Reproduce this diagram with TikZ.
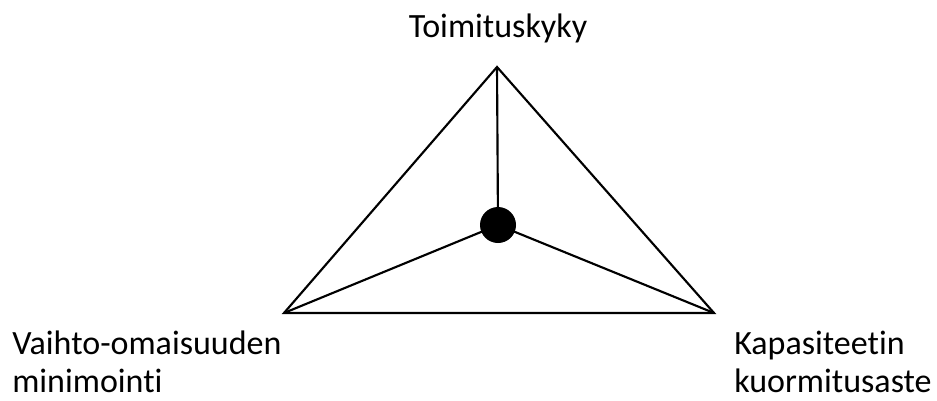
\documentclass[tikz,border=0pt]{standalone}
\usepackage{fontspec}
\setmainfont{Carlito}[RawFeature={-liga}]
\begin{document}
\begin{tikzpicture}[x=0.75pt,y=-0.75pt,
  edge/.style={line width=1.6pt,line join=miter},
  lbl/.style={font=\fontsize{25.5}{30}\selectfont,inner sep=0pt}]
\useasboundingbox (0,0) rectangle (937,400);
\coordinate (top) at (497,67);
\coordinate (bl) at (284,313);
\coordinate (br) at (714,313);
\node[circle,fill=black,minimum size=27pt,inner sep=0pt] (c) at (498,225) {};
\draw[edge] (top) -- (bl) -- (br) -- cycle;
\draw[edge] (c.center) -- (top);
\draw[edge] (c.center) -- (bl);
\draw[edge] (c.center) -- (br);
\node[lbl,anchor=base] (t1) at (498,37) {Toimituskyky};
\node[lbl,anchor=base west] (t2) at (12,354) {Vaihto-omaisuuden};
\node[lbl,anchor=base west] (t3) at (12,392) {minimointi};
\node[lbl,anchor=base west] (t4) at (734,354) {Kapasiteetin};
\node[lbl,anchor=base west] (t5) at (734,392) {kuormitusaste};
\end{tikzpicture}
\end{document}
